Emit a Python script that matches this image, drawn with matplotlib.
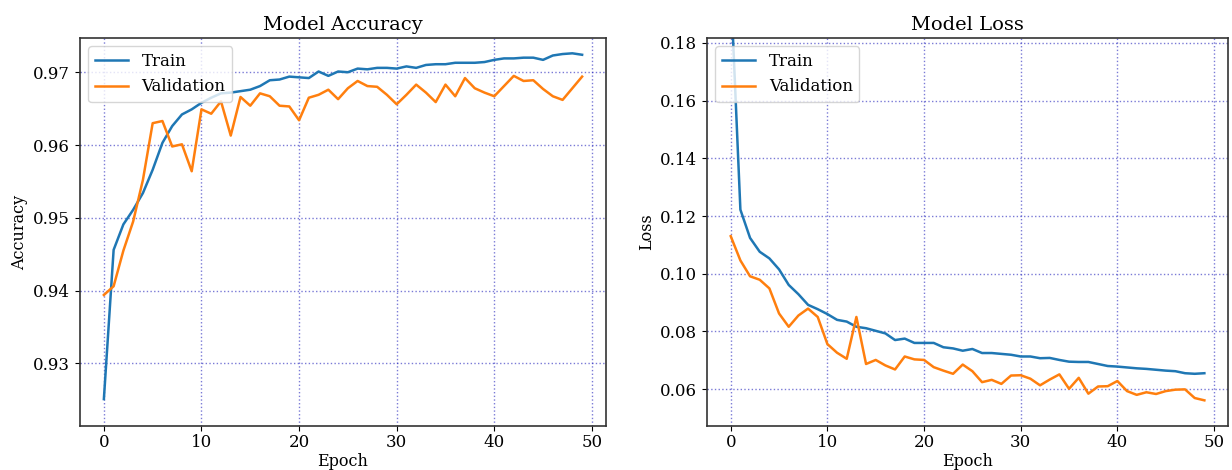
import numpy as np
import matplotlib
matplotlib.use('Agg')
import matplotlib.pyplot as plt

plt.rcParams['font.family'] = ['DejaVu Serif']

# Valores (50 épocas)
epochs = np.arange(50)

train_acc = [0.9251, 0.9456, 0.9491, 0.9511, 0.9534, 0.9566, 0.9603, 0.9626, 0.9642, 0.9649,
             0.9658, 0.9665, 0.9671, 0.9672, 0.9674, 0.9676, 0.9681, 0.9689, 0.9690, 0.9694,
             0.9693, 0.9692, 0.9701, 0.9695, 0.9701, 0.9700, 0.9705, 0.9704, 0.9706, 0.9706,
             0.9705, 0.9708, 0.9706, 0.9710, 0.9711, 0.9711, 0.9713, 0.9713, 0.9713, 0.9714,
             0.9717, 0.9719, 0.9719, 0.9720, 0.9720, 0.9717, 0.9723, 0.9725, 0.9726, 0.9724]

val_acc = [0.9394, 0.9406, 0.9455, 0.9495, 0.9552, 0.9630, 0.9633, 0.9598, 0.9601, 0.9564,
           0.9649, 0.9643, 0.9660, 0.9613, 0.9666, 0.9654, 0.9671, 0.9667, 0.9654, 0.9653,
           0.9634, 0.9665, 0.9669, 0.9676, 0.9663, 0.9678, 0.9688, 0.9681, 0.9680, 0.9669,
           0.9656, 0.9669, 0.9683, 0.9672, 0.9659, 0.9683, 0.9667, 0.9692, 0.9678, 0.9672,
           0.9667, 0.9681, 0.9695, 0.9688, 0.9689, 0.9677, 0.9667, 0.9662, 0.9678, 0.9694]

train_loss = [0.2000, 0.1222, 0.1124, 0.1076, 0.1053, 0.1015, 0.0961, 0.0929, 0.0892, 0.0877,
              0.0860, 0.0840, 0.0834, 0.0816, 0.0811, 0.0802, 0.0793, 0.0770, 0.0775, 0.0760,
              0.0760, 0.0760, 0.0745, 0.0741, 0.0733, 0.0739, 0.0725, 0.0725, 0.0722, 0.0719,
              0.0713, 0.0713, 0.0707, 0.0708, 0.0701, 0.0695, 0.0694, 0.0694, 0.0687, 0.0680,
              0.0678, 0.0675, 0.0672, 0.0670, 0.0667, 0.0664, 0.0662, 0.0655, 0.0653, 0.0655]

val_loss = [0.1130, 0.1046, 0.0991, 0.0979, 0.0949, 0.0862, 0.0816, 0.0855, 0.0879, 0.0850,
            0.0756, 0.0726, 0.0705, 0.0850, 0.0687, 0.0701, 0.0682, 0.0668, 0.0713, 0.0703,
            0.0701, 0.0676, 0.0664, 0.0653, 0.0685, 0.0662, 0.0624, 0.0632, 0.0618, 0.0647,
            0.0648, 0.0636, 0.0613, 0.0633, 0.0651, 0.0601, 0.0639, 0.0584, 0.0609, 0.0610,
            0.0628, 0.0593, 0.0580, 0.0589, 0.0583, 0.0593, 0.0598, 0.0599, 0.0569, 0.0561]


def draw_panel(ax, train, val, title, ylabel, ylim):
    ax.plot(epochs, train, color='#1f77b4', lw=1.8, label='Train')
    ax.plot(epochs, val, color='#ff7f0e', lw=1.8, label='Validation')
    ax.set_title(title, fontsize=14)
    ax.set_xlabel('Epoch', fontsize=11.5, labelpad=1)
    ax.set_ylabel(ylabel, fontsize=11.5)
    ax.set_ylim(ylim)
    ax.set_xticks([0, 10, 20, 30, 40, 50])
    ax.tick_params(labelsize=12)
    ax.tick_params(axis='x', pad=2.5)
    ax.grid(True, color='#2222bb', linestyle=':', linewidth=1.0, alpha=0.6)
    for s in ax.spines.values():
        s.set_linewidth(1.2)
        s.set_color('#333333')
    ax.legend(loc='upper left', fontsize=12)


fig = plt.figure(figsize=(12.32, 4.70), dpi=100)
ax1 = fig.add_axes([0.0649, 0.0936, 0.427, 0.8255])
ax2 = fig.add_axes([0.5739, 0.0936, 0.4229, 0.8255])

draw_panel(ax1, train_acc, val_acc, 'Model Accuracy', 'Accuracy', (0.9214, 0.9747))
ax1.set_yticks([0.93, 0.94, 0.95, 0.96, 0.97])
draw_panel(ax2, train_loss, val_loss, 'Model Loss', 'Loss', (0.0472, 0.1817))
ax2.set_yticks([0.06, 0.08, 0.10, 0.12, 0.14, 0.16, 0.18])

fig.savefig('out.png', dpi=100)
